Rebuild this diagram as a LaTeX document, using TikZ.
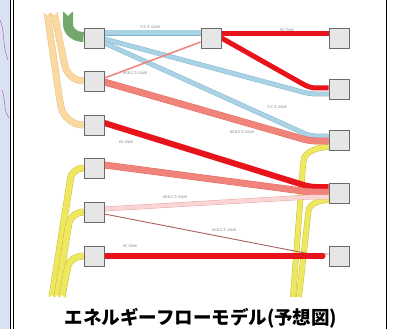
\documentclass[tikz,border=0pt]{standalone}
\usepackage{fontspec}
\newfontfamily\jp{Noto Sans CJK JP}
\usetikzlibrary{calc}
\definecolor{boxfill}{HTML}{E6E6E6}
\definecolor{boxline}{HTML}{6A6A6A}
\definecolor{fblue}{HTML}{A9D3E4}
\definecolor{oblue}{HTML}{7FB4CC}
\definecolor{fred}{HTML}{E8141C}
\definecolor{fsalmon}{HTML}{F0837A}
\definecolor{osalmon}{HTML}{E06A60}
\definecolor{fpink}{HTML}{F9D6D3}
\definecolor{opink}{HTML}{E8A0A0}
\definecolor{fbrown}{HTML}{A86060}
\definecolor{ftan}{HTML}{F9D9A0}
\definecolor{otan}{HTML}{E6BE80}
\definecolor{fyellow}{HTML}{EEE860}
\definecolor{oyellow}{HTML}{C4BC30}
\definecolor{fgreen}{HTML}{72A86A}
\definecolor{stripblue}{HTML}{D9E2F2}
\pgfdeclarelayer{bg}
\pgfsetlayers{bg,main}
\begin{document}
\begin{tikzpicture}[x=1pt,y=-1pt,
  box/.style={draw=boxline, fill=boxfill, line width=0.9pt, minimum size=20pt, inner sep=0pt},
  lbl/.style={font=\jp\fontsize{3.5}{4}\selectfont, text=gray, inner sep=0pt},
  band/.style n args={3}{draw=#2, double=#1, double distance=#3, line width=0.4pt, rounded corners=6pt, line join=round},
  solid band/.style n args={2}{draw=#1, line width=#2, rounded corners=6pt, line join=round}]
\useasboundingbox (0,0) rectangle (394,329);
% boxes
\node[box] (b1) at (94,38) {};
\node[box] (b2) at (94,81) {};
\node[box] (b3) at (94,125) {};
\node[box] (b4) at (94,168) {};
\node[box] (b5) at (94,212) {};
\node[box] (b6) at (94,256) {};
\node[box] (m) at (211,38) {};
\node[box] (r1) at (339,38) {};
\node[box] (r2) at (339,89) {};
\node[box] (r3) at (339,140) {};
\node[box] (r4) at (339,193) {};
\node[box] (r5) at (339,256) {};
\coordinate (gtop) at (68,12);
\coordinate (t1) at (47,12);
\coordinate (t2) at (54,12);
\coordinate (y1) at (52,297);
\coordinate (y2) at (57,297);
\coordinate (y3) at (62,297);
\coordinate (yr1) at (293,297);
\coordinate (yr2) at (299,297);
\begin{pgfonlayer}{bg}
\fill[white] (0,0) rectangle (394,329);
% left strip and frame
\fill[stripblue] (0,0) rectangle (10,329);
\draw[violet!60, line width=0.5pt] (0,20) .. controls (5,30) and (2,45) .. (8,60);
\draw[violet!60, line width=0.5pt] (2,90) .. controls (6,100) and (3,110) .. (9,118);
\draw[black, line width=0.8pt] (10.5,0) -- (10.5,329);
\draw[black, line width=0.8pt] (13,0) -- (13,329);
\draw[black, line width=1pt] (386,0) -- (386,329);
% inputs
\draw[fgreen, line width=10pt] (gtop) -- (68,24) to[out=-90,in=180] ($(b1.west)+(0,-1)$);
\draw[band={ftan}{otan}{6pt}] (t1) -- (60,102) to[out=-78,in=180] (b3.west);
\draw[band={ftan}{otan}{6pt}] (t2) -- (64,62) to[out=-75,in=180] (b2.west);
\draw[band={fyellow}{oyellow}{6pt}] (y1) -- (70,182) to[out=80,in=180] (b4.west);
\draw[band={fyellow}{oyellow}{6pt}] (y2) -- (68,228) to[out=78,in=180] (b5.west);
\draw[band={fyellow}{oyellow}{6pt}] (y3) -- (67,270) to[out=75,in=180] (b6.west);
\draw[band={fyellow}{oyellow}{5pt}] (yr1) -- (303,165) to[out=82,in=180] ($(r3.west)+(0,7)$);
\draw[band={fyellow}{oyellow}{5pt}] (yr2) -- (308,215) to[out=82,in=180] ($(r4.west)+(0,7)$);
% blue flows
\draw[band={fblue}{oblue}{5pt}] ($(b1.east)+(0,-5)$) -- ($(m.west)+(0,-5)$);
\draw[band={fblue}{oblue}{4pt}] ($(b1.east)+(0,1)$) -- (310,94) -- ($(r2.west)+(0,5)$);
\draw[band={fblue}{oblue}{4pt}] ($(b1.east)+(0,5)$) -- (310,136) -- ($(r3.west)+(0,-4)$);
% red from m
\draw[solid band={fred}{5pt}] ($(m.east)+(0,-4)$) -- ($(r1.west)+(0,-4)$);
\draw[solid band={fred}{5pt}] ($(m.east)+(0,0)$) -- (310,88) -- ($(r2.west)+(0,-1)$);
% salmon from b2
\draw[fsalmon, line width=1.5pt] ($(b2.east)+(0,-3)$) -- ($(m.west)+(0,4)$);
\draw[band={fsalmon}{osalmon}{6pt}] ($(b2.east)+(0,1)$) -- (310,141) -- ($(r3.west)+(0,1)$);
% red from b3
\draw[solid band={fred}{6pt}] ($(b3.east)+(0,-2)$) -- (310,187) -- ($(r4.west)+(0,-6)$);
% b4
\draw[band={fsalmon}{osalmon}{6pt}] ($(b4.east)+(0,-3)$) -- (310,192) -- ($(r4.west)+(0,-1)$);
% b5
\draw[band={fpink}{opink}{4pt}] ($(b5.east)+(0,-3)$) -- (310,197) -- ($(r4.west)+(0,4)$);
\draw[fbrown, line width=0.9pt] ($(b5.east)+(0,2)$) -- (310,254) -- ($(r5.west)+(0,-2)$);
% b6
\draw[solid band={fred}{6pt}] (b6.east) -- ($(r5.west)+(-6,0)$);
\fill[fred] ($(r5.west)+(-6,0)$) circle (3pt);
% notches at the top of the input bands
\fill[white] (62,10) -- (74,10) -- (68,16) -- cycle;
\fill[white] (42,10) -- (59,10) -- (57.5,12) -- (54,15.5) -- (50.5,12) -- (47,15.5) -- (43.5,12) -- cycle;
\fill[white] (47,300) -- (67,300) -- (65,298) -- (62,295) -- (59.5,298) -- (57,295) -- (54.5,298) -- (52,295) -- (49,298) -- cycle;
\end{pgfonlayer}
% labels
\node[lbl] (l1) at (150,27) {ITエネ 62kW};
\node[lbl] (l2) at (135,73) {WCBエネ 62kW};
\node[lbl] (l3) at (287,30) {EE 70kW};
\node[lbl] (l4) at (277,107) {ITエネ 80kW};
\node[lbl] (l5) at (242,132) {WCBエネ 80kW};
\node[lbl] (l6) at (126,142) {EE 18kW};
\node[lbl] (l7) at (175,197) {WCBエネ 80kW};
\node[lbl] (l8) at (224,230) {WCBエネ 20kW};
\node[lbl] (l9) at (130,246) {EE 18kW};
% title
\node[font=\jp\bfseries\fontsize{18.5}{20}\selectfont, inner sep=0pt] (title) at (201,318) {エネルギーフローモデル(予想図)};
\end{tikzpicture}
\end{document}
